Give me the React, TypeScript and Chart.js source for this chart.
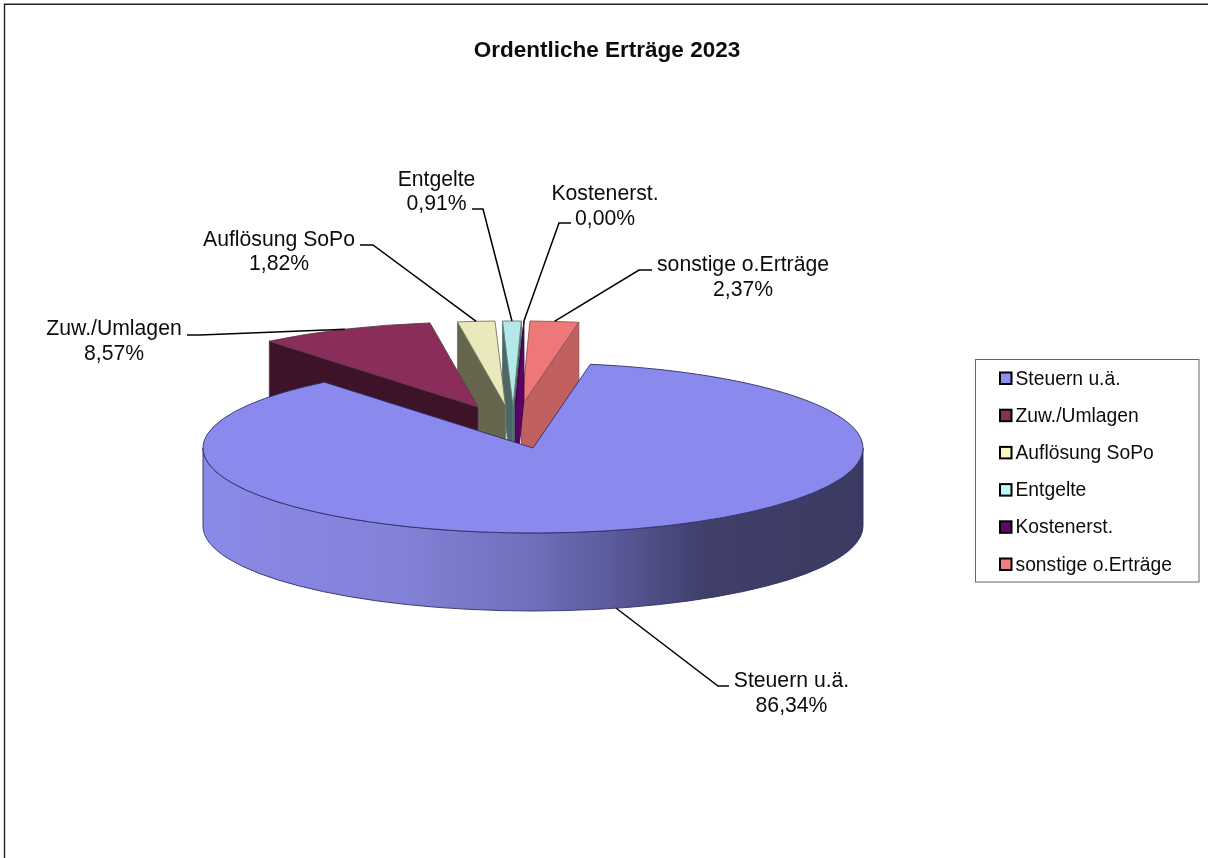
import React, { useEffect, useRef } from "react";
import { Chart, registerables } from "chart.js";

Chart.register(...registerables);

const titleText = "Ordentliche Erträge 2023";
const categories = ["Steuern u.ä.", "Zuw./Umlagen", "Auflösung SoPo", "Entgelte", "Kostenerst.", "sonstige o.Erträge"];
const shares = [86.34, 8.57, 1.82, 0.91, 0.004, 2.37];

const topColors = ["#8A8AEE", "#8B2D5B", "#E9E9BC", "#B5E9E9", "#5E0A64", "#EE7777"];
const faceColors = ["#3C3C66", "#3E1228", "#66664F", "#4F6666", "#5E006A", "#C06060"];
const edgeColors = ["#2E2E66", "#5a3a4a", "#77775f", "#5f7777", "#3a0a3a", "#8a5555"];
const legendColors = ["#8F8FF0", "#8B2D5B", "#F8F8C0", "#C0F8F8", "#5E0A64", "#F08080"];

// painter's order: back slices first, the large slice last
const paintOrder = [5, 3, 4, 2, 1, 0];
// how far each exploded slice sits from the pie centre, on screen
const explode = [[0, 0], [-55, -41], [-27.5, -42], [-20, -42], [-17.5, -42], [-11.5, -42]];

const PIE = { cx: 533, cy: 448, r: 330, squash: 85 / 330, depth: 78 };

// label layout: text centre, first baseline, leader elbow, leader end
const labelLayout = [
  { x: 791.5, y: 687, elbow: [718, 686], end: [729, 686], front: true },
  { x: 114, y: 335, elbow: [200, 335], end: [187, 335] },
  { x: 279, y: 245.5, elbow: [373, 245], end: [360, 245] },
  { x: 436.5, y: 185.5, elbow: [483, 209], end: [472, 209] },
  { x: 605, y: 200, elbow: [559, 223], end: [571, 223] },
  { x: 743, y: 271, elbow: [639, 270], end: [652, 270] },
];

const FONT = "'Liberation Sans', Arial, sans-serif";

function drawText(ctx: any, text: string, x: number, y: number, font: string, align: string) {
  ctx.save();
  ctx.font = font;
  ctx.textAlign = align;
  ctx.textBaseline = "alphabetic";
  ctx.fillStyle = "#0c0c0c";
  ctx.fillText(text, x, y);
  ctx.restore();
}

const pie3d = {
  id: "pie3d",
  beforeDatasetDraw(chart: any) {
    const ctx = chart.ctx;
    const arcs = chart.getDatasetMeta(0).data;
    const { cx, cy, squash, depth } = PIE;
    for (const i of paintOrder) {
      const el = arcs[i];
      const R = el.outerRadius;
      const a0 = el.startAngle;
      const a1 = el.endAngle;
      const tx = cx + explode[i][0];
      const ty = cy + explode[i][1];
      const pt = (a: number, d = 0) => [tx + R * Math.cos(a), ty + R * squash * Math.sin(a) + d];
      ctx.save();
      ctx.lineWidth = 0.9;
      ctx.strokeStyle = edgeColors[i];
      ctx.lineJoin = "round";
      // rim: only the part of the arc that faces the viewer
      for (let k = -1; k <= 1; k++) {
        const lo = Math.max(a0, 2 * Math.PI * k);
        const hi = Math.min(a1, 2 * Math.PI * k + Math.PI);
        if (hi <= lo) continue;
        ctx.beginPath();
        ctx.ellipse(tx, ty, R, R * squash, 0, lo, hi, false);
        ctx.ellipse(tx, ty + depth, R, R * squash, 0, hi, lo, true);
        ctx.closePath();
        if (i === 0) {
          const g = ctx.createLinearGradient(tx - R, 0, tx + R, 0);
          g.addColorStop(0, "#8A8AE8");
          g.addColorStop(0.3, "#8282D8");
          g.addColorStop(0.5, "#6F6FBC");
          g.addColorStop(0.62, "#5A5A9C");
          g.addColorStop(0.76, "#3F3F6A");
          g.addColorStop(1, "#3A3A62");
          ctx.fillStyle = g;
        } else {
          ctx.fillStyle = faceColors[i];
        }
        ctx.fill();
        ctx.stroke();
      }
      // radial faces that the viewer can see
      const faces = [
        { a: a0, show: Math.cos(a0) < 0 },
        { a: a1, show: Math.cos(a1) > 0 },
      ];
      for (const f of faces) {
        if (!f.show) continue;
        const p = pt(f.a);
        const q = pt(f.a, depth);
        ctx.beginPath();
        ctx.moveTo(tx, ty);
        ctx.lineTo(p[0], p[1]);
        ctx.lineTo(q[0], q[1]);
        ctx.lineTo(tx, ty + depth);
        ctx.closePath();
        ctx.fillStyle = faceColors[i];
        ctx.fill();
        ctx.stroke();
      }
      // top surface: the library's own arc element, flattened
      ctx.save();
      ctx.translate(tx, ty);
      ctx.scale(1, squash);
      ctx.translate(-el.x, -el.y);
      el.draw(ctx);
      ctx.restore();
      ctx.beginPath();
      ctx.moveTo(tx, ty);
      ctx.ellipse(tx, ty, R, R * squash, 0, a0, a1, false);
      ctx.closePath();
      ctx.stroke();
      ctx.restore();
    }
    return false;
  },
  afterDraw(chart: any) {
    const ctx = chart.ctx;
    const arcs = chart.getDatasetMeta(0).data;
    const { cx, cy, squash, depth } = PIE;
    const values = chart.data.datasets[0].data;

    // frame
    ctx.save();
    ctx.strokeStyle = "#222";
    ctx.lineWidth = 1.4;
    ctx.beginPath();
    ctx.moveTo(4.5, 858);
    ctx.lineTo(4.5, 4.2);
    ctx.lineTo(1208, 4.2);
    ctx.stroke();
    ctx.restore();

    // title
    drawText(ctx, titleText, 607, 56.5, `bold 22.5px ${FONT}`, "center");

    // leaders and data labels
    categories.forEach((name, i) => {
      const el = arcs[i];
      const L = labelLayout[i];
      const mid = (el.startAngle + el.endAngle) / 2;
      const ax = cx + explode[i][0] + el.outerRadius * Math.cos(mid);
      const ay = cy + explode[i][1] + el.outerRadius * squash * Math.sin(mid) + (L.front ? depth : 0);
      ctx.save();
      ctx.strokeStyle = "#000";
      ctx.lineWidth = 1.5;
      ctx.beginPath();
      ctx.moveTo(ax, ay);
      ctx.lineTo(L.elbow[0], L.elbow[1]);
      ctx.lineTo(L.end[0], L.end[1]);
      ctx.stroke();
      ctx.restore();
      const font = `21.2px ${FONT}`;
      drawText(ctx, name, L.x, L.y, font, "center");
      drawText(ctx, values[i].toFixed(2).replace(".", ",") + "%", L.x, L.y + 24.5, font, "center");
    });

    // legend
    ctx.save();
    ctx.strokeStyle = "#666";
    ctx.lineWidth = 1;
    ctx.strokeRect(975.5, 359.5, 223.5, 222.5);
    categories.forEach((name, i) => {
      const yc = 378 + i * 37.2;
      ctx.fillStyle = legendColors[i];
      ctx.strokeStyle = "#000";
      ctx.lineWidth = 2;
      ctx.fillRect(1000, yc - 5.5, 11.5, 11.5);
      ctx.strokeRect(1000, yc - 5.5, 11.5, 11.5);
      drawText(ctx, name, 1015.5, yc + 6.5, `19.3px ${FONT}`, "left");
    });
    ctx.restore();
  },
};

export default function App() {
  const ref = useRef<HTMLCanvasElement>(null);
  useEffect(() => {
    const chart = new Chart(ref.current as HTMLCanvasElement, {
      type: "pie",
      data: {
        labels: categories,
        datasets: [{ data: shares, backgroundColor: topColors, borderWidth: 0, radius: PIE.r }],
      },
      options: {
        animation: false,
        responsive: false,
        rotation: 10,
        plugins: { legend: { display: false }, tooltip: { enabled: false }, title: { display: false } },
      },
      plugins: [pie3d],
    } as any);
    return () => chart.destroy();
  }, []);
  return (
    <canvas
      ref={ref}
      width={1208}
      height={858}
      style={{ position: "absolute", left: 0, top: 0, display: "block", background: "#fff" }}
    />
  );
}
